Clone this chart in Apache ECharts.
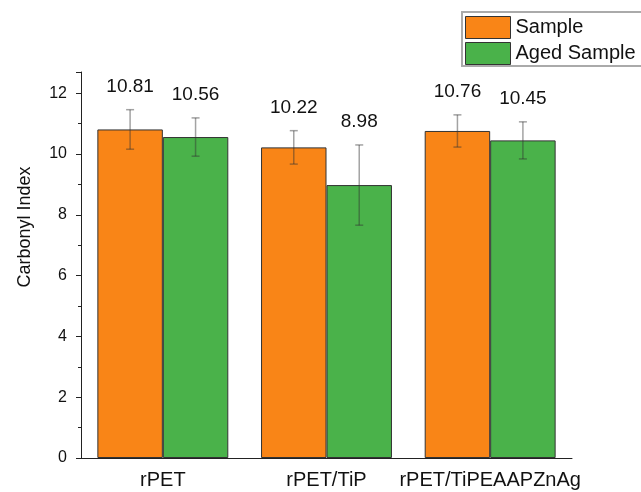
<!DOCTYPE html>
<html>
<head>
<meta charset="utf-8">
<script src="https://cdn.jsdelivr.net/npm/echarts@6/dist/echarts.min.js"></script>
<style>
  html, body { margin: 0; padding: 0; background: #fff; }
  #chart { width: 641px; height: 492px; }
</style>
</head>
<body>
<div id="chart"></div>
<script>
// Carbonyl index of recycled PET samples, before and after ageing
const categories = ['rPET', 'rPET/TiP', 'rPET/TiPEAAPZnAg'];
const sampleValues = [10.81, 10.22, 10.76];
const agedValues = [10.56, 8.98, 10.45];
const sampleErrors = [0.65, 0.55, 0.53];
const agedErrors = [0.63, 1.32, 0.61];
const yTicks = [0, 2, 4, 6, 8, 10, 12];

const FONT = '"Liberation Sans", Arial, sans-serif';
const ORANGE = '#F98517';
const GREEN = '#4AB24A';
const BAR_FRACTION = 0.4;

// Error bar + value label, shifted half a bar to the left (dir=-1) or right (dir=1)
function errorRenderer(dir) {
  return function (params, api) {
    const idx = api.value(0);
    const val = api.value(1);
    const err = api.value(2);
    const band = api.size([1, 0])[0];
    const barW = band * BAR_FRACTION;
    const cx = api.coord([idx, val])[0] + dir * barW / 2;
    const yTop = api.coord([idx, val + err])[1];
    const yBot = api.coord([idx, val - err])[1];
    const cap = 4;
    const lineStyle = { stroke: 'rgba(50,50,50,0.45)', lineWidth: 1.5 };
    return {
      type: 'group',
      children: [
        { type: 'line', shape: { x1: cx, y1: yTop, x2: cx, y2: yBot }, style: lineStyle },
        { type: 'line', shape: { x1: cx - cap, y1: yTop, x2: cx + cap, y2: yTop }, style: lineStyle },
        { type: 'line', shape: { x1: cx - cap, y1: yBot, x2: cx + cap, y2: yBot }, style: lineStyle },
        {
          type: 'text',
          style: {
            text: val.toFixed(2),
            x: cx,
            y: yTop - 23,
            align: 'center',
            verticalAlign: 'middle',
            fontSize: 19,
            fontFamily: FONT,
            fill: '#111'
          }
        }
      ]
    };
  };
}

const chart = echarts.init(document.getElementById('chart'), null, { renderer: 'canvas' });

chart.setOption({
  animation: false,
  backgroundColor: '#fff',
  textStyle: { fontFamily: FONT },
  grid: { left: 81, right: 69, top: 72, bottom: 34 },
  legend: {
    data: ['Sample', 'Aged Sample'],
    orient: 'vertical',
    left: 462,
    top: 12,
    padding: [4, 20, 3, 3],
    itemWidth: 45,
    itemHeight: 22,
    itemGap: 3,
    icon: 'rect',
    borderWidth: 0,
    itemStyle: { borderColor: '#333', borderWidth: 1 },
    textStyle: { fontSize: 20, color: '#111', fontFamily: FONT }
  },
  graphic: [
    {
      // legend frame, running off the right edge of the canvas
      type: 'rect',
      shape: { x: 462, y: 12, width: 220, height: 54 },
      style: { fill: 'none', stroke: '#aaa', lineWidth: 2 },
      silent: true,
      z: 10
    },
    {
      type: 'text',
      x: 25,
      y: 227,
      rotation: Math.PI / 2,
      style: {
        text: 'Carbonyl Index',
        align: 'center',
        verticalAlign: 'middle',
        fontSize: 18,
        fontFamily: FONT,
        fill: '#111'
      }
    }
  ],
  xAxis: [
    {
      type: 'category',
      data: categories,
      axisLine: { lineStyle: { color: '#222', width: 1 } },
      axisTick: { alignWithLabel: true, length: 7, lineStyle: { color: '#222' } },
      axisLabel: { fontSize: 20, color: '#111', margin: 12, fontFamily: FONT, interval: 0 }
    },
    {
      type: 'category',
      data: categories,
      position: 'bottom',
      axisLine: { show: false },
      axisTick: { alignWithLabel: false, length: 4, lineStyle: { color: '#222' } },
      axisLabel: { show: false }
    }
  ],
  yAxis: {
    type: 'value',
    min: yTicks[0],
    max: 12.7,
    interval: yTicks[1] - yTicks[0],
    splitLine: { show: false },
    axisLine: { show: true, lineStyle: { color: '#222', width: 1 } },
    axisTick: { show: true, length: 5, lineStyle: { color: '#222' } },
    minorTick: { show: true, splitNumber: 2, length: 3, lineStyle: { color: '#222' } },
    axisLabel: {
      fontSize: 16,
      color: '#111',
      margin: 14,
      fontFamily: FONT,
      formatter: function (v) { return yTicks.indexOf(v) >= 0 ? String(v) : ''; }
    }
  },
  series: [
    {
      name: 'Sample',
      type: 'bar',
      data: sampleValues,
      barWidth: (BAR_FRACTION * 100) + '%',
      barGap: '0%',
      itemStyle: { color: ORANGE, borderColor: '#333', borderWidth: 1 }
    },
    {
      name: 'Aged Sample',
      type: 'bar',
      data: agedValues,
      barWidth: (BAR_FRACTION * 100) + '%',
      barGap: '0%',
      itemStyle: { color: GREEN, borderColor: '#333', borderWidth: 1 }
    },
    {
      name: 'Sample error',
      type: 'custom',
      renderItem: errorRenderer(-1),
      clip: false,
      z: 5,
      encode: { x: 0, y: 1 },
      data: categories.map((c, i) => [i, sampleValues[i], sampleErrors[i]])
    },
    {
      name: 'Aged Sample error',
      type: 'custom',
      renderItem: errorRenderer(1),
      clip: false,
      z: 5,
      encode: { x: 0, y: 1 },
      data: categories.map((c, i) => [i, agedValues[i], agedErrors[i]])
    }
  ]
});
</script>
</body>
</html>
